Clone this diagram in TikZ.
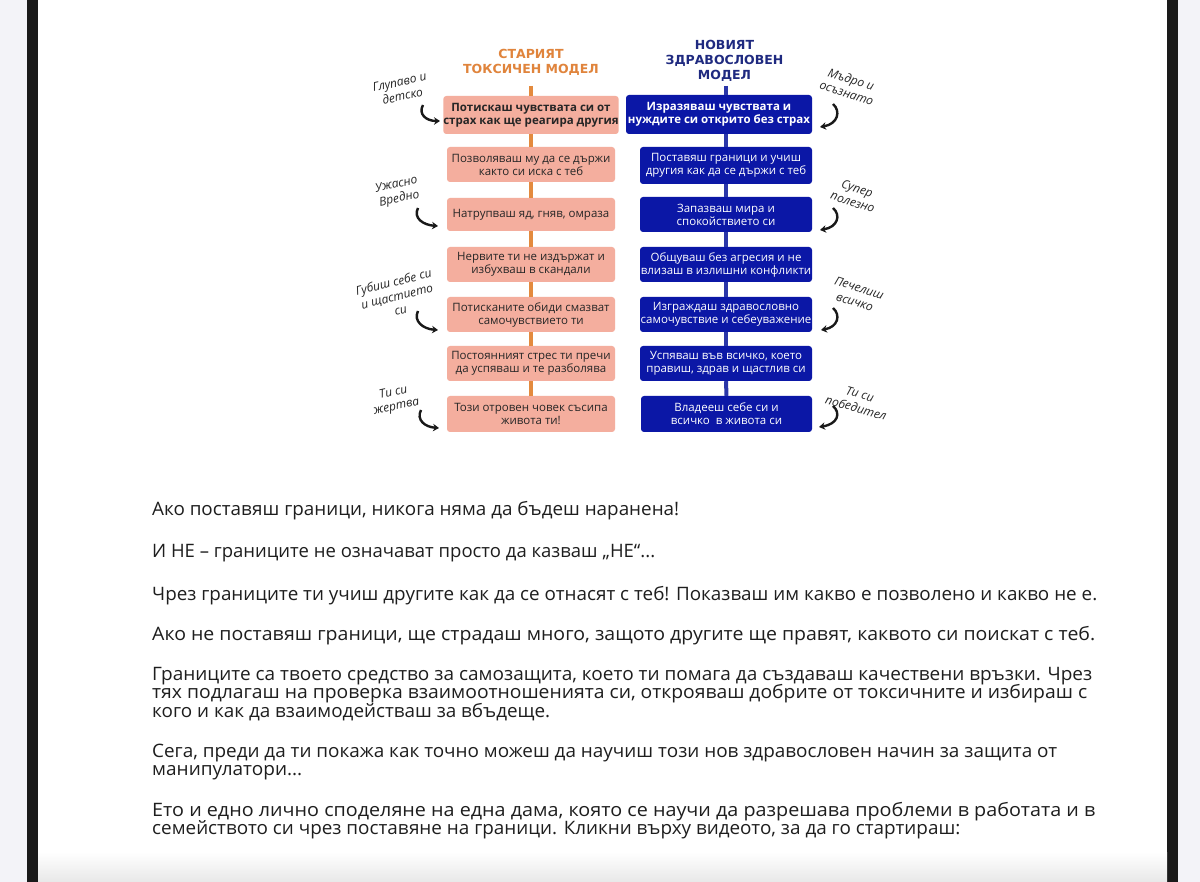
\documentclass[tikz,border=0pt]{standalone}
\usepackage{fontspec}
\setmainfont{Open Sans}
\newfontfamily\titlefont{DejaVu Sans}
\usepackage{graphicx}
\usetikzlibrary{arrows.meta}
\definecolor{salmon}{HTML}{F4AE9E}
\definecolor{oldorange}{HTML}{E0843C}
\definecolor{oldline}{HTML}{E38A3E}
\definecolor{navy}{HTML}{1F2A80}
\definecolor{boxblue}{HTML}{0B17A6}
\definecolor{newline}{HTML}{2B36A8}
\definecolor{bodytext}{HTML}{1E1E1E}
\definecolor{sidegray}{HTML}{F3F3F8}
\definecolor{barblack}{HTML}{1A1A1A}
\newcommand{\bodyfont}{\fontsize{18.5}{20}\selectfont}
\newcommand{\fitw}[2]{\resizebox{#1pt}{\height}{#2}}
\newlength\reflen
\newcommand{\setpscale}[3]{\settowidth{\reflen}{\bodyfont #3}\pgfmathsetmacro#1{#2/\reflen}}
\tikzset{
 oldbox/.style={fill=salmon, rounded corners=3pt, inner sep=0pt, align=center, text=black!85,
   font=\fontsize{11.5}{13}\selectfont, minimum width=168pt},
 oldbold/.style={oldbox, font=\fontsize{11.5}{13}\selectfont\bfseries},
 newbox/.style={fill=boxblue, rounded corners=3pt, inner sep=0pt, align=center, text=white,
   font=\fontsize{11.5}{13}\selectfont, minimum width=172pt},
 newbold/.style={newbox, font=\fontsize{11.5}{13}\selectfont\bfseries, minimum width=186pt},
 oldlink/.style={draw=oldline, line width=4pt},
 newlink/.style={draw=newline, line width=4pt},
 titlestyle/.style={font=\titlefont\fontsize{12.5}{15}\selectfont\bfseries, align=center, inner sep=0pt},
 note/.style={font=\fontsize{12}{14.5}\selectfont\itshape, align=center, inner sep=0pt, text=black!85},
 curvy/.style={line width=2.4pt, -{Stealth[length=6pt,width=7.5pt]}, black!90},
 bodyline/.style={anchor=base west, inner sep=0pt, font=\bodyfont, text=bodytext},
}
\begin{document}
\setpscale{\pscaleA}{940}{Границите са твоето средство за самозащита, което ти помага да създаваш качествени връзки. Чрез}%
\setpscale{\pscaleB}{905}{Сега, преди да ти покажа как точно можеш да научиш този нов здравословен начин за защита от}%
\setpscale{\pscaleC}{943}{Ето и едно лично споделяне на една дама, която се научи да разрешава проблеми в работата и в}%
\begin{tikzpicture}[x=1pt,y=-1pt]
\useasboundingbox (0,0) rectangle (1200,882);
\fill[sidegray] (0,0) rectangle (1200,882);
\fill[barblack] (27,0) rectangle (38,882);
\fill[barblack] (1167,0) rectangle (1178,882);
\fill[white] (38,0) rectangle (1167,882);
\shade[top color=white,bottom color=black!9] (38,852) rectangle (1167,882);

% titles
\node[titlestyle, text=oldorange] (tl) at (531,62) {СТАРИЯТ\\ТОКСИЧЕН МОДЕЛ};
\node[titlestyle, text=navy] (tr) at (724.5,61) {НОВИЯТ\\ЗДРАВОСЛОВЕН\\МОДЕЛ};

% old model boxes
\node[oldbold, minimum height=38pt] (L1) at (531,115) {Потискаш чувствата си от\\страх как ще реагира другия};
\node[oldbox, minimum height=35pt] (L2) at (531,164.5) {Позволяваш му да се държи\\както си иска с теб};
\node[oldbox, minimum height=33pt] (L3) at (531,214.5) {Натрупваш яд, гняв, омраза};
\node[oldbox, minimum height=35pt] (L4) at (531,264.5) {Нервите ти не издържат и\\избухваш в скандали};
\node[oldbox, minimum height=35pt] (L5) at (531,314.5) {Потисканите обиди смазват\\самочувствието ти};
\node[oldbox, minimum height=35pt] (L6) at (531,363.5) {Постоянният стрес ти пречи\\да успяваш и те разболява};
\node[oldbox, minimum height=36pt] (L7) at (531,414) {Този отровен човек съсипа\\живота ти!};

% new model boxes
\node[newbold, minimum height=39pt] (R1) at (719,114.5) {Изразяваш чувствата и\\нуждите си открито без страх};
\node[newbox, minimum height=37pt] (R2) at (726,165.5) {Поставяш граници и учиш\\другия как да се държи с теб};
\node[newbox, minimum height=35pt] (R3) at (726,214.5) {Запазваш мира и\\спокойствието си};
\node[newbox, minimum height=35pt] (R4) at (726,264.5) {Общуваш без агресия и не\\влизаш в излишни конфликти};
\node[newbox, minimum height=35pt] (R5) at (726,314.5) {Изграждаш здравословно\\самочувствие и себеуважение};
\node[newbox, minimum height=35pt] (R6) at (726,363.5) {Успяваш във всичко, което\\правиш, здрав и щастлив си};
\node[newbox, minimum height=36pt, minimum width=171pt] (R7) at (726.5,414) {Владееш себе си и\\всичко\ \ в живота си};

% connectors
\coordinate (Ltop) at (531,86);
\draw[oldlink] (Ltop) -- (L1.north);
\draw[oldlink] (L1.south) -- (L2.north);
\draw[oldlink] (L2.south) -- (L3.north);
\draw[oldlink] (L3.south) -- (L4.north);
\draw[oldlink] (L4.south) -- (L5.north);
\draw[oldlink] (L5.south) -- (L6.north);
\draw[oldlink] (L6.south) -- (L7.north);
\coordinate (Rtop) at (726,86);
\draw[newlink] (Rtop) -- (Rtop |- R1.north);
\draw[newlink] (R2.north |- R1.south) -- (R2.north);
\draw[newlink] (R2.south) -- (R3.north);
\draw[newlink] (R3.south) -- (R4.north);
\draw[newlink] (R4.south) -- (R5.north);
\draw[newlink] (R5.south) -- (R6.north);
\draw[newlink] (R6.south) -- (R7.north);

% annotations left
\node[note, rotate=12] (n1) at (401,89) {Глупаво и\\детско};
\node[note, rotate=12] (n2) at (398,192) {Ужасно\\Вредно};
\node[note, rotate=14] (n3) at (397,296) {Губиш себе си\\и щастието\\си};
\node[note, rotate=12] (n4) at (395,400) {Ти си\\жертва};
% annotations right
\node[note, rotate=-18] (m1) at (849,86) {Мъдро и\\осъзнато};
\node[note, rotate=-18] (m2) at (855,195) {Супер\\полезно};
\node[note, rotate=-18] (m3) at (857,295) {Печелиш\\всичко};
\node[note, rotate=-16] (m4) at (858,401) {Ти си\\победител};

% curved arrows left
\coordinate (a1s) at (423,105); \coordinate (a1e) at (440,121);
\draw[curvy] (a1s) .. controls (418,114) and (426,121) .. (a1e);
\coordinate (a2s) at (418,208); \coordinate (a2e) at (438,226);
\draw[curvy] (a2s) .. controls (413,218) and (423,225) .. (a2e);
\coordinate (a3s) at (418,311); \coordinate (a3e) at (438,330);
\draw[curvy] (a3s) .. controls (413,321) and (423,329) .. (a3e);
\coordinate (a4s) at (421,410); \coordinate (a4e) at (439,428);
\draw[curvy] (a4s) .. controls (416,420) and (425,427) .. (a4e);
% curved arrows right
\coordinate (b1s) at (833,104); \coordinate (b1e) at (820,127);
\draw[curvy] (b1s) .. controls (841,111) and (838,124) .. (b1e);
\coordinate (b2s) at (833,208); \coordinate (b2e) at (820,230);
\draw[curvy] (b2s) .. controls (841,215) and (838,227) .. (b2e);
\coordinate (b3s) at (833,308); \coordinate (b3e) at (821,330);
\draw[curvy] (b3s) .. controls (841,315) and (838,327) .. (b3e);
\coordinate (b4s) at (833,406); \coordinate (b4e) at (819,427);
\draw[curvy] (b4s) .. controls (841,413) and (838,424) .. (b4e);

% body text
\node[bodyline] (p1) at (152,515) {\fitw{527}{Ако поставяш граници, никога няма да бъдеш наранена!}};
\node[bodyline] (p2) at (152,557) {И НЕ – границите не означават просто да казваш „НЕ“...};
\node[bodyline] (p3) at (152,600) {\fitw{945}{Чрез границите ти учиш другите как да се отнасят с теб! Показваш им какво е позволено и какво не е.}};
\node[bodyline] (p4) at (152,640) {\fitw{943}{Ако не поставяш граници, ще страдаш много, защото другите ще правят, каквото си поискат с теб.}};
\node[bodyline] (p5a) at (152,680) {\scalebox{\pscaleA}[1]{Границите са твоето средство за самозащита, което ти помага да създаваш качествени връзки. Чрез}};
\node[bodyline] (p5b) at (152,698.5) {\fitw{935}{тях подлагаш на проверка взаимоотношенията си, открояваш добрите от токсичните и избираш с}};
\node[bodyline] (p5c) at (152,717) {\fitw{398}{кого и как да взаимодействаш за вбъдеще.}};
\node[bodyline] (p6a) at (152,757) {\scalebox{\pscaleB}[1]{Сега, преди да ти покажа как точно можеш да научиш този нов здравословен начин за защита от}};
\node[bodyline] (p6b) at (152,775.5) {\fitw{150}{манипулатори...}};
\node[bodyline] (p7a) at (152,816) {\scalebox{\pscaleC}[1]{Ето и едно лично споделяне на една дама, която се научи да разрешава проблеми в работата и в}};
\node[bodyline] (p7b) at (152,834.5) {\fitw{808}{семейството си чрез поставяне на граници. Кликни върху видеото, за да го стартираш:}};
\end{tikzpicture}
\end{document}
